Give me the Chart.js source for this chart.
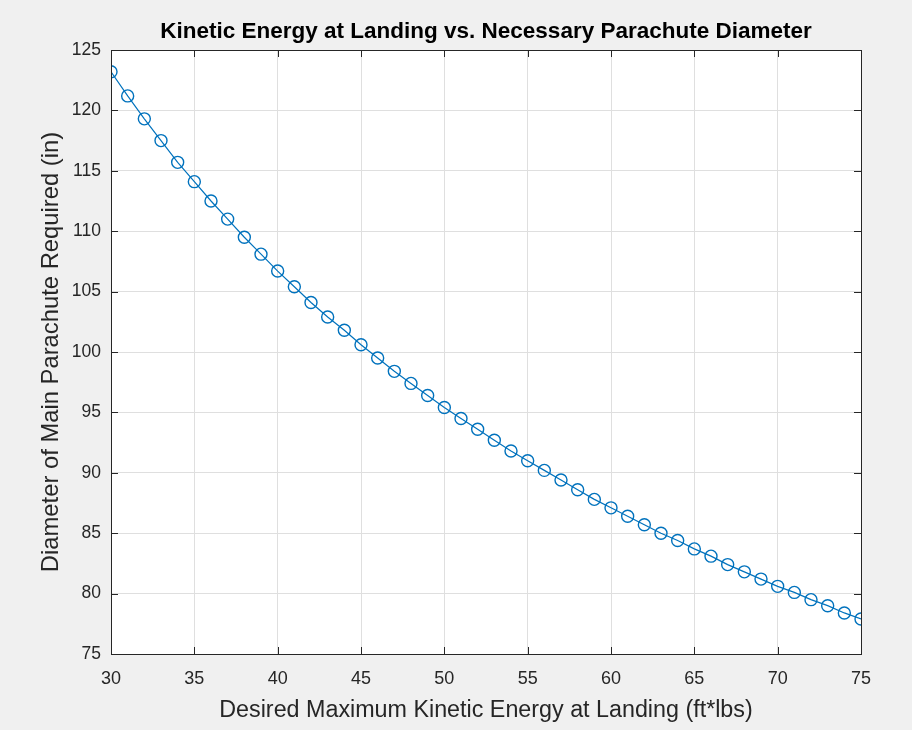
<!DOCTYPE html>
<html>
<head>
<meta charset="utf-8">
<title>Kinetic Energy vs Parachute Diameter</title>
<script src="https://cdn.jsdelivr.net/npm/chart.js@4/dist/chart.umd.min.js"></script>
<style>
    html, body { margin: 0; padding: 0; background: #f0f0f0; }
    #wrap { width: 912px; height: 730px; }
</style>
</head>
<body>
<div id="wrap"><canvas id="chart" width="912" height="730"></canvas></div>
<script>
// Data
const kineticEnergy = [30, 31, 32, 33, 34, 35, 36, 37, 38, 39, 40, 41, 42, 43, 44, 45,
    46, 47, 48, 49, 50, 51, 52, 53, 54, 55, 56, 57, 58, 59, 60, 61, 62, 63, 64, 65,
    66, 67, 68, 69, 70, 71, 72, 73, 74, 75];
const diameter = [123.2, 121.2, 119.3, 117.5, 115.7, 114.1, 112.5, 111.0, 109.5, 108.1,
    106.7, 105.4, 104.1, 102.9, 101.8, 100.6, 99.5, 98.4, 97.4, 96.4,
    95.4, 94.5, 93.6, 92.7, 91.8, 91.0, 90.2, 89.4, 88.6, 87.8,
    87.1, 86.4, 85.7, 85.0, 84.4, 83.7, 83.1, 82.4, 81.8, 81.2,
    80.6, 80.1, 79.5, 79.0, 78.4, 77.9];
const xTicks = [30, 35, 40, 45, 50, 55, 60, 65, 70, 75];
const yTicks = [75, 80, 85, 90, 95, 100, 105, 110, 115, 120, 125];
const chartTitle = 'Kinetic Energy at Landing vs. Necessary Parachute Diameter';

const lineColor = '#0072BD';
const axisColor = '#262626';
const fontFamily = '"Liberation Sans", Arial, Helvetica, sans-serif';

// MATLAB-style axes box: white background, full frame, inward ticks, centred title
const axesBox = {
    id: 'axesBox',
    beforeDraw(chart) {
        const { ctx, chartArea: a } = chart;
        ctx.save();
        ctx.fillStyle = '#ffffff';
        ctx.fillRect(a.left, a.top, a.right - a.left, a.bottom - a.top);
        ctx.restore();
    },
    afterDraw(chart) {
        const { ctx, chartArea: a } = chart;
        const xs = chart.scales.x, ys = chart.scales.y;
        const len = 7;
        ctx.save();
        ctx.strokeStyle = axisColor;
        ctx.lineWidth = 1;
        ctx.beginPath();
        xs.ticks.forEach(t => {
            const px = Math.round(xs.getPixelForValue(t.value)) + 0.5;
            ctx.moveTo(px, a.bottom); ctx.lineTo(px, a.bottom - len);
            ctx.moveTo(px, a.top); ctx.lineTo(px, a.top + len);
        });
        ys.ticks.forEach(t => {
            const py = Math.round(ys.getPixelForValue(t.value)) + 0.5;
            ctx.moveTo(a.left, py); ctx.lineTo(a.left + len, py);
            ctx.moveTo(a.right, py); ctx.lineTo(a.right - len, py);
        });
        ctx.stroke();
        ctx.strokeRect(Math.round(a.left) + 0.5, Math.round(a.top) + 0.5,
            Math.round(a.right - a.left), Math.round(a.bottom - a.top));

        // title centred over the axes, like MATLAB
        ctx.fillStyle = '#000000';
        ctx.font = 'bold 22.5px ' + fontFamily;
        ctx.textAlign = 'center';
        ctx.textBaseline = 'middle';
        ctx.fillText(chartTitle, (a.left + a.right) / 2, 32);
        ctx.restore();
    }
};

new Chart(document.getElementById('chart'), {
    type: 'scatter',
    data: {
        datasets: [{
            data: kineticEnergy.map((x, i) => ({ x: x, y: diameter[i] })),
            showLine: true,
            borderColor: lineColor,
            borderWidth: 1.2,
            backgroundColor: 'rgba(0,0,0,0)',
            pointBorderColor: lineColor,
            pointBackgroundColor: 'rgba(0,0,0,0)',
            pointBorderWidth: 1.4,
            pointRadius: 6,
            pointHoverRadius: 6,
            tension: 0
        }]
    },
    plugins: [axesBox],
    options: {
        responsive: false,
        animation: false,
        layout: { padding: { left: 0, right: 51, top: 50, bottom: 0 } },
        plugins: {
            legend: { display: false },
            tooltip: { enabled: false },
            title: { display: false }
        },
        scales: {
            x: {
                type: 'linear',
                min: 30,
                max: 75,
                afterBuildTicks: scale => { scale.ticks = xTicks.map(v => ({ value: v })); },
                afterFit: scale => { scale.height = 76; },
                ticks: {
                    color: axisColor,
                    font: { family: fontFamily, size: 18 },
                    padding: 14,
                    maxRotation: 0
                },
                grid: { color: '#dfdfdf', drawTicks: false },
                border: { display: false },
                title: {
                    display: true,
                    text: 'Desired Maximum Kinetic Energy at Landing (ft*lbs)',
                    color: axisColor,
                    font: { family: fontFamily, size: 23.3 },
                    padding: { top: 0, bottom: 5 }
                }
            },
            y: {
                type: 'linear',
                min: 75,
                max: 125,
                afterBuildTicks: scale => { scale.ticks = yTicks.map(v => ({ value: v })); },
                afterFit: scale => { scale.width = 111; },
                ticks: {
                    color: axisColor,
                    font: { family: fontFamily, size: 17.5 },
                    padding: 10
                },
                grid: { color: '#dfdfdf', drawTicks: false },
                border: { display: false },
                title: {
                    display: true,
                    text: 'Diameter of Main Parachute Required (in)',
                    color: axisColor,
                    font: { family: fontFamily, size: 23.8 },
                    padding: { top: 37, bottom: 0 }
                }
            }
        }
    }
});
</script>
</body>
</html>
